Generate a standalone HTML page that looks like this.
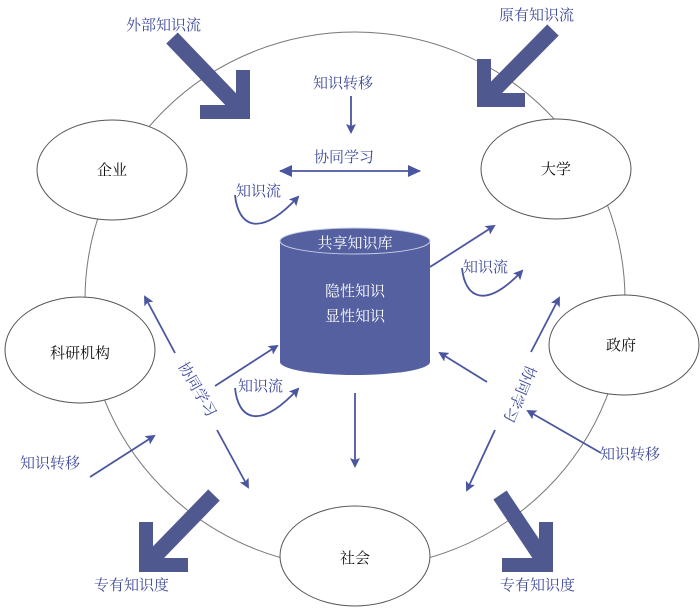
<!DOCTYPE html>
<html><head><meta charset="utf-8"><style>
html,body{margin:0;padding:0;background:#fff;}
svg{display:block;}
text{font-family:"Liberation Serif","Noto Serif CJK SC",serif;}
.b{fill:#3f4b9c;font-size:15px;}
.k{fill:#111;font-size:15px;}
.w{fill:#fff;font-size:15px;}
</style></head><body>
<svg width="700" height="609" viewBox="0 0 700 609" xmlns="http://www.w3.org/2000/svg">
<defs>
<marker id="ah" markerWidth="10" markerHeight="10" refX="8" refY="5" orient="auto" markerUnits="userSpaceOnUse">
<path d="M0,0 L10,5 L0,10 L2,5 z" fill="#4a56a0"/>
</marker>
<marker id="ahs" markerWidth="14" markerHeight="14" refX="12" refY="7" orient="auto-start-reverse" markerUnits="userSpaceOnUse">
<path d="M0,1 L13,7 L0,13 z" fill="#4a56a0"/>
</marker>
</defs>
<ellipse cx="355" cy="300" rx="270" ry="268" fill="none" stroke="#777" stroke-width="1"/>
<g fill="#fff" stroke="#555" stroke-width="1">
<ellipse cx="112" cy="170" rx="75" ry="50"/>
<ellipse cx="556" cy="169" rx="75" ry="50"/>
<ellipse cx="80" cy="350" rx="75" ry="53"/>
<ellipse cx="624" cy="345" rx="75" ry="50"/>
<ellipse cx="355" cy="556" rx="75" ry="50"/>
</g>
<text class="k" x="112" y="175" text-anchor="middle">企业</text>
<text class="k" x="556" y="174" text-anchor="middle">大学</text>
<text class="k" x="80" y="358" text-anchor="middle">科研机构</text>
<text class="k" x="621" y="350" text-anchor="middle">政府</text>
<text class="k" x="355" y="563" text-anchor="middle">社会</text>
<path d="M280,241 L280,362 A75,13 0 0 0 430,362 L430,241 z" fill="#5560a0"/>
<ellipse cx="355" cy="241" rx="75" ry="13" fill="#5560a0" stroke="#c8cce4" stroke-width="1"/>
<text class="w" x="355" y="248" text-anchor="middle">共享知识库</text>
<text class="w" x="355" y="296" text-anchor="middle">隐性知识</text>
<text class="w" x="355" y="321" text-anchor="middle">显性知识</text>
<g fill="#50598f">
<line x1="172" y1="38" x2="242" y2="111" stroke="#50598f" stroke-width="16"/>
<polygon points="250,119 250,70 236,70 236,105 200,105 200,119"/>
<line x1="553" y1="30" x2="485" y2="99" stroke="#50598f" stroke-width="16"/>
<polygon points="477,107 477,59 491,59 491,93 525,93 525,107"/>
<line x1="214" y1="495" x2="147" y2="564" stroke="#50598f" stroke-width="16"/>
<polygon points="139,572 139,522 153,522 153,558 188,558 188,572"/>
<line x1="500" y1="495" x2="546" y2="564" stroke="#50598f" stroke-width="16"/>
<polygon points="553,572 553,522 539,522 539,558 502,558 502,572"/>
</g>
<text class="b" x="126" y="30">外部知识流</text>
<text class="b" x="499" y="20">原有知识流</text>
<text class="b" x="94" y="590">专有知识度</text>
<text class="b" x="500" y="590">专有知识度</text>
<g stroke="#4a56a0" stroke-width="1.8" fill="none">
<line x1="351" y1="96" x2="351" y2="132" marker-end="url(#ah)"/>
<line x1="280" y1="171" x2="420" y2="171" marker-start="url(#ahs)" marker-end="url(#ahs)"/>
<path d="M235,195 C238,225 258,240 298,197" marker-end="url(#ah)"/>
<line x1="430" y1="267" x2="494" y2="226" marker-end="url(#ah)"/>
<path d="M462,268 C465,298 485,310 522,271" marker-end="url(#ah)"/>
<line x1="175" y1="353" x2="145" y2="297" marker-end="url(#ah)"/>
<line x1="217" y1="430" x2="248" y2="487" marker-end="url(#ah)"/>
<line x1="215" y1="386" x2="277" y2="346" marker-end="url(#ah)"/>
<path d="M235,388 C238,418 258,432 298,389" marker-end="url(#ah)"/>
<line x1="355" y1="393" x2="355" y2="466" marker-end="url(#ah)"/>
<line x1="90" y1="477" x2="154" y2="436" marker-end="url(#ah)"/>
<line x1="531" y1="352" x2="559" y2="298" marker-end="url(#ah)"/>
<line x1="495" y1="430" x2="467" y2="490" marker-end="url(#ah)"/>
<line x1="487" y1="382" x2="440" y2="353" marker-end="url(#ah)"/>
<line x1="601" y1="453" x2="528" y2="411" marker-end="url(#ah)"/>
</g>
<text class="b" x="313" y="88">知识转移</text>
<text class="b" x="314" y="162">协同学习</text>
<text class="b" x="236" y="196" font-size="14">知识流</text>
<text class="b" x="463" y="272" font-size="14">知识流</text>
<text class="b" x="238" y="391" font-size="14">知识流</text>
<text class="b" x="20" y="468">知识转移</text>
<text class="b" x="600" y="459">知识转移</text>
<text class="b" transform="translate(193,392) rotate(60)" text-anchor="middle">协同学习</text>
<text class="b" transform="translate(515,392) rotate(113)" text-anchor="middle">协同学习</text>
</svg>
</body></html>
